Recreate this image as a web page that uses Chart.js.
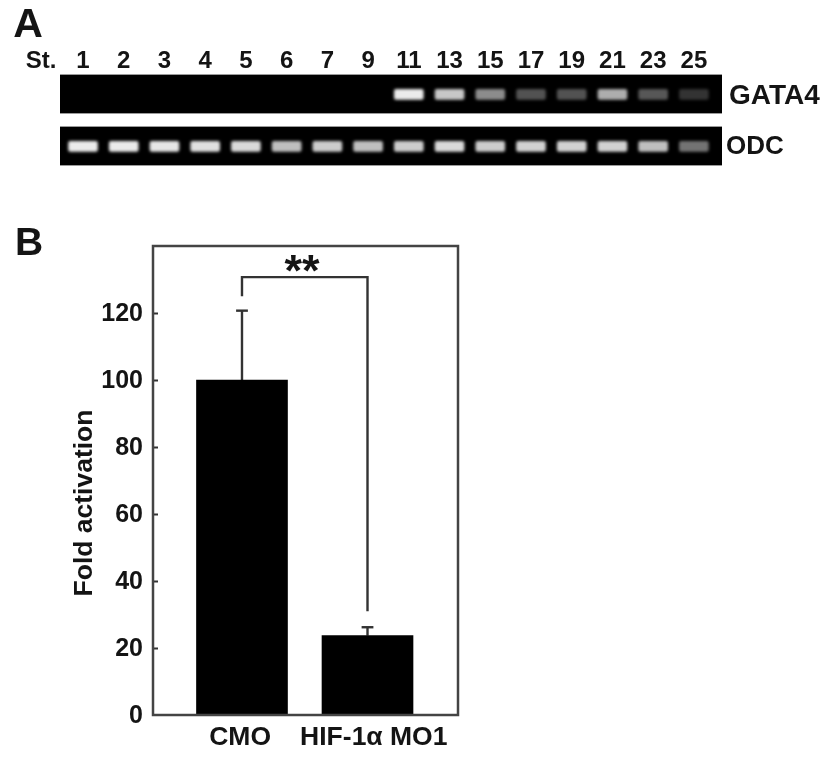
<!DOCTYPE html>
<html><head><meta charset="utf-8">
<script src="https://cdn.jsdelivr.net/npm/chart.js@4"></script>
<style>
html,body{margin:0;padding:0;background:#fff;width:839px;height:762px;overflow:hidden}
canvas{position:absolute;left:0;top:0;filter:blur(0.7px)}
</style></head><body>
<canvas id="gelA" width="839" height="762"></canvas>
<canvas id="gelB" width="839" height="762"></canvas>
<canvas id="bars" width="839" height="762"></canvas>
<script>
const stages = ['1','2','3','4','5','6','7','9','11','13','15','17','19','21','23','25'];
const gata4Intensity = [0,0,0,0,0,0,0,0,0.92,0.78,0.55,0.32,0.32,0.68,0.34,0.2];
const odcIntensity = [0.92,0.92,0.9,0.88,0.85,0.75,0.8,0.75,0.8,0.85,0.8,0.82,0.82,0.82,0.75,0.45];
const barCategories = ['CMO','HIF-1α MO1'];
const barValues = [100,23.7];
const barUpper = [120.7,26.2];
const yTicks = [0,20,40,60,80,100,120];
const bracketLeft = [125,130.7];
const bracketRight = [130.7,31];

const FONT = '"Liberation Sans", Arial, sans-serif';
const ink = '#141414';

const textPlugin = {
  id:'texts',
  afterDraw(chart, args, opts){
    const c = chart.ctx;
    (opts.items||[]).forEach(t=>{
      c.save();
      c.translate(t.x,t.y);
      if(t.rot) c.rotate(t.rot);
      c.font = `bold ${t.size}px ${FONT}`;
      c.fillStyle = ink;
      c.textAlign = 'center';
      c.textBaseline = 'middle';
      c.fillText(t.text,0,0);
      c.restore();
    });
  }
};
const backPlugin = {
  id:'gelBack',
  beforeDatasetsDraw(chart){
    const a = chart.chartArea, c = chart.ctx;
    c.save();
    c.fillStyle = '#000';
    c.fillRect(a.left,a.top,a.right-a.left,a.bottom-a.top);
    c.fillStyle = '#9a9a9a';
    c.fillRect(a.left,a.top-1,a.right-a.left,1);
    c.fillRect(a.left,a.bottom,a.right-a.left,1);
    c.restore();
  },
  beforeDatasetDraw(chart){ chart.ctx.filter='blur(1.7px)'; },
  afterDatasetDraw(chart){ chart.ctx.filter='none'; }
};
const framePlugin = {
  id:'frame',
  afterDraw(chart){
    const a = chart.chartArea, c = chart.ctx;
    c.save();
    c.strokeStyle = '#444';
    c.lineWidth = 2.5;
    c.strokeRect(a.left,a.top,a.right-a.left,a.bottom-a.top);
    c.restore();
  }
};

function gel(id, intensity, name, topAxis, pad, extra){
  return new Chart(document.getElementById(id),{
    type:'bar',
    data:{datasets:[{
      data:intensity.map((v,i)=>({x:i+1,y:[0.36,0.62]})),
      backgroundColor:intensity.map(v=>`rgba(255,255,255,${v})`),
      barThickness:29, borderRadius:2, borderSkipped:false
    }]},
    plugins:[backPlugin,textPlugin],
    options:{
      responsive:false, animation:false, devicePixelRatio:1,
      layout:{padding:{left:60,top:pad.top,bottom:pad.bottom,right:0}},
      plugins:{legend:{display:false},tooltip:{enabled:false},texts:{items:extra}},
      scales:{
        x:{type:'linear',position:'top',offset:false,min:0.435,max:16.69,display:topAxis,
          grid:{display:false,drawTicks:false},border:{display:false},
          afterBuildTicks(s){s.ticks=stages.map((_,i)=>({value:i+1}));},
          afterFit(s){ if(topAxis) s.height=75; },
          ticks:{autoSkip:false,maxRotation:0,padding:-1,color:ink,font:{family:FONT,weight:'bold',size:24},
            callback:v=>stages[v-1]}},
        y:{type:'linear',position:'right',min:0,max:1,
          grid:{display:false,drawTicks:false},border:{display:false},
          afterBuildTicks(s){s.ticks=[{value:0.5}];},
          afterFit(s){s.width=117;},
          ticks:{padding:pad.label,labelOffset:pad.shift,crossAlign:'near',color:ink,font:{family:FONT,weight:'bold',size:pad.size},callback:()=>name}}
      }
    }
  });
}
gel('gelA',gata4Intensity,'GATA4',true,{top:0,bottom:649,label:7,shift:2,size:28},[
  {text:'A',x:28,y:26,size:41},{text:'St.',x:41,y:61,size:24}]);
gel('gelB',odcIntensity,'ODC',false,{top:127,bottom:597,label:4,shift:1,size:26},[]);

const capUnits = 0.047;
function seg(points){
  return {type:'line',data:points,borderColor:'#333',borderWidth:2.4,pointRadius:0,tension:0,parsing:true,fill:false};
}
const whiskers = [];
barValues.forEach((v,i)=>{
  const x=i+1;
  whiskers.push(seg([{x,y:v},{x,y:barUpper[i]}]));
  whiskers.push(seg([{x:x-capUnits,y:barUpper[i]},{x:x+capUnits,y:barUpper[i]}]));
});
const bracket = seg([
  {x:1,y:bracketLeft[0]},{x:1,y:bracketLeft[1]},
  {x:2,y:bracketRight[0]},{x:2,y:bracketRight[1]}
]);
const labelPositions = [0.985,2.05];

new Chart(document.getElementById('bars'),{
  data:{datasets:[
    {type:'bar',data:barValues.map((v,i)=>({x:i+1,y:v})),backgroundColor:'#000',barThickness:91},
    ...whiskers,bracket
  ]},
  plugins:[framePlugin,textPlugin],
  options:{
    responsive:false, animation:false, devicePixelRatio:1,
    layout:{padding:{left:0,top:246,right:381,bottom:0}},
    plugins:{legend:{display:false},tooltip:{enabled:false},
      texts:{items:[
        {text:'B',x:29,y:244,size:39},
        {text:'**',x:302,y:274,size:45},
        {text:'Fold activation',x:85,y:503,size:26.5,rot:-Math.PI/2}
      ]}},
    scales:{
      x:{type:'linear',offset:false,min:0.291,max:2.721,
        grid:{display:false,drawTicks:false,offset:false},border:{display:false},
        afterBuildTicks(s){s.ticks=labelPositions.map(value=>({value}));},
        afterFit(s){s.height=47;},
        ticks:{autoSkip:false,maxRotation:0,padding:7,color:ink,font:{family:FONT,weight:'bold',size:26.5},
          callback:v=>barCategories[labelPositions.indexOf(v)]}},
      y:{type:'linear',min:0,max:140,
        grid:{drawOnChartArea:false,drawTicks:true,tickLength:-5,tickWidth:2,tickColor:c=>c.tick&&c.tick.value===0?'transparent':'#333'},border:{display:false},
        afterBuildTicks(s){s.ticks=yTicks.map(value=>({value}));},
        afterFit(s){s.width=153;},
        ticks:{padding:15,labelOffset:1.5,color:ink,font:{family:FONT,weight:'bold',size:25},callback:v=>String(v)}}
    }
  }
});
</script>
</body></html>
